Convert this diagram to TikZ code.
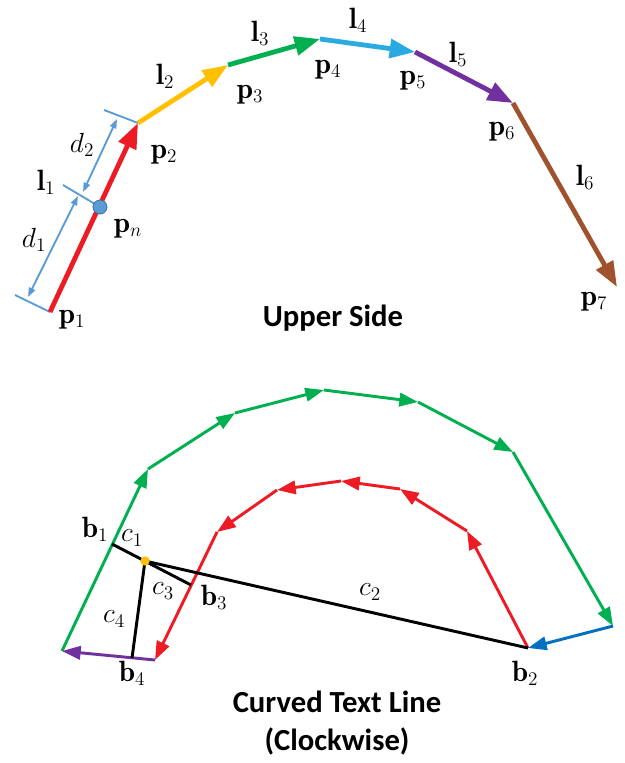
\documentclass[tikz,border=0pt]{standalone}
\usepackage{amsmath, amssymb}
\usepackage{fontspec}
\newfontfamily\titlefont{Carlito}
\usepackage{xcolor}
\usepackage{tikz}
\usetikzlibrary{arrows.meta}
\definecolor{segred}{RGB}{237, 28, 36}
\definecolor{segyellow}{RGB}{255, 192, 0}
\definecolor{seggreen}{RGB}{0, 176, 80}
\definecolor{segcyan}{RGB}{41, 171, 226}
\definecolor{segpurple}{RGB}{112, 48, 160}
\definecolor{segbrown}{RGB}{160, 82, 45}
\definecolor{segblue}{RGB}{0, 112, 192}
\definecolor{dimblue}{RGB}{91, 155, 213}
\definecolor{dotedge}{RGB}{60, 110, 160}

\begin{document}
\begin{tikzpicture}[x=0.75pt, y=-0.75pt,
    bigseg/.style={line width=3.6pt, -{Triangle[length=19pt, width=14pt]}},
    smallseg/.style={line width=2.2pt, -{Triangle[length=14pt, width=10pt]}},
    dimline/.style={line width=1.4pt, dimblue},
    lbl/.style={font=\fontsize{22}{26}\selectfont, inner sep=0pt},
    title/.style={font=\titlefont\bfseries\fontsize{23}{28}\selectfont, align=center}]

    \useasboundingbox (0,0) rectangle (624,763);

    % Upper side: polyline points
    \coordinate (p1) at (50,312);
    \coordinate (p2) at (138,123);
    \coordinate (p3) at (228,65);
    \coordinate (p4) at (320,39);
    \coordinate (p5) at (415,52);
    \coordinate (p6) at (513,103);
    \coordinate (p7) at (617,287);

    % Dimension marks on l1
    \coordinate (t1) at (15,295);
    \coordinate (t2) at (104,110);
    \coordinate (tn) at (63,185);
    \coordinate (d1a) at (28,297);
    \coordinate (d1b) at (78,196);
    \coordinate (d2a) at (83,192);
    \coordinate (d2b) at (117,119);
    \draw[dimline] (t1) -- (p1);
    \draw[dimline] (t2) -- (p2);
    \draw[dimline] (tn) -- (100,207);
    \draw[dimline, {Triangle[length=7pt, width=5pt]}-{Triangle[length=7pt, width=5pt]}] (d1a) -- (d1b);
    \draw[dimline, {Triangle[length=7pt, width=5pt]}-{Triangle[length=7pt, width=5pt]}] (d2a) -- (d2b);

    % Segments l1 ... l6
    \foreach \a/\b/\c in {p1/p2/segred, p2/p3/segyellow, p3/p4/seggreen,
                          p4/p5/segcyan, p5/p6/segpurple, p6/p7/segbrown} {
        \draw[bigseg, \c] (\a) -- (\b);
    }

    % Point p_n
    \node[circle, fill=dimblue, draw=dotedge, line width=0.6pt, minimum size=10.5pt, inner sep=0pt] (pn) at (100,207) {};

    % Upper labels
    \node[lbl] (ld2) at (82,145) {$d_2$};
    \node[lbl] (ll1) at (46,182) {$\mathbf{l}_1$};
    \node[lbl] (ld1) at (34,240) {$d_1$};
    \node[lbl] (lpn) at (128,229) {$\mathbf{p}_n$};
    \node[lbl] (lp1) at (72,320) {$\mathbf{p}_1$};
    \node[lbl] (lp2) at (164,155) {$\mathbf{p}_2$};
    \node[lbl] (ll2) at (165,76) {$\mathbf{l}_2$};
    \node[lbl] (lp3) at (250,95) {$\mathbf{p}_3$};
    \node[lbl] (ll3) at (260,33) {$\mathbf{l}_3$};
    \node[lbl] (lp4) at (328,70) {$\mathbf{p}_4$};
    \node[lbl] (ll4) at (358,20) {$\mathbf{l}_4$};
    \node[lbl] (lp5) at (413,81) {$\mathbf{p}_5$};
    \node[lbl] (ll5) at (458,54) {$\mathbf{l}_5$};
    \node[lbl] (lp6) at (502,132) {$\mathbf{p}_6$};
    \node[lbl] (ll6) at (585,177) {$\mathbf{l}_6$};
    \node[lbl] (lp7) at (594,302) {$\mathbf{p}_7$};

    \node[title] (upper) at (333,318) {Upper Side};

    % Curved text line: outer (green) and inner (red) boundaries
    \coordinate (q0) at (62,651);
    \coordinate (g1) at (148,469);
    \coordinate (g2) at (235,413);
    \coordinate (g3) at (324,390);
    \coordinate (g4) at (418,402);
    \coordinate (g5) at (513,452);
    \coordinate (g6) at (613,626);
    \coordinate (b2) at (528,648);
    \coordinate (r1) at (467,531);
    \coordinate (r2) at (400,489);
    \coordinate (r3) at (341,481);
    \coordinate (r4) at (277,490);
    \coordinate (r5) at (217,532);
    \coordinate (r6) at (155,660);

    \foreach \a/\b in {q0/g1, g1/g2, g2/g3, g3/g4, g4/g5, g5/g6} {
        \draw[smallseg, seggreen] (\a) -- (\b);
    }
    \draw[smallseg, segblue] (g6) -- (b2);
    \foreach \a/\b in {b2/r1, r1/r2, r2/r3, r3/r4, r4/r5, r5/r6} {
        \draw[smallseg, segred] (\a) -- (\b);
    }
    \draw[smallseg, segpurple] (r6) -- (q0);

    % Cross lines through the centre point
    \coordinate (b1) at (112,544);
    \coordinate (b3) at (191,585);
    \coordinate (b4) at (132,658);
    \coordinate (cc) at (145,561);
    \draw[line width=2.2pt] (b1) -- (b3);
    \draw[line width=2.2pt] (cc) -- (b2);
    \draw[line width=2.2pt] (cc) -- (b4);
    \node[circle, fill=segyellow, minimum size=7pt, inner sep=0pt] (ccdot) at (cc) {};

    % Lower labels
    \node[lbl] (lb1) at (95,529) {$\mathbf{b}_1$};
    \node[lbl] (lc1) at (132,538) {$c_1$};
    \node[lbl] (lc3) at (163,591) {$c_3$};
    \node[lbl] (lb3) at (214,597) {$\mathbf{b}_3$};
    \node[lbl] (lc4) at (114,619) {$c_4$};
    \node[lbl] (lb4) at (132,673) {$\mathbf{b}_4$};
    \node[lbl] (lc2) at (370,592) {$c_2$};
    \node[lbl] (lb2) at (525,673) {$\mathbf{b}_2$};

    \node[title] (curved) at (337,723) {Curved Text Line\\(Clockwise)};

\end{tikzpicture}
\end{document}
